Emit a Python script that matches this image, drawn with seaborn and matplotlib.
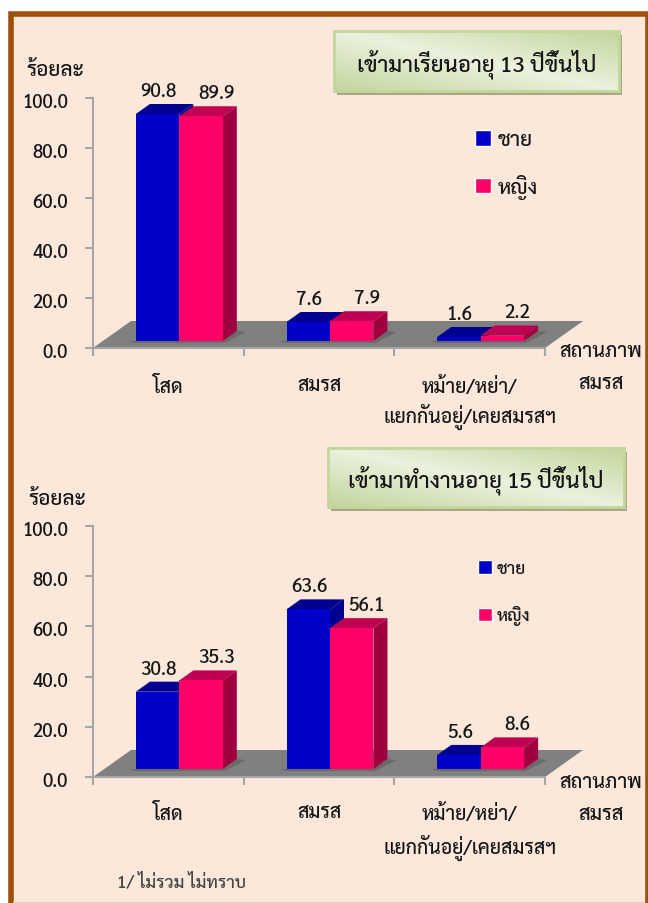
# -*- coding: utf-8 -*-
import numpy as np
import pandas as pd
import matplotlib
matplotlib.use('Agg')
import matplotlib.pyplot as plt
from matplotlib.colors import LinearSegmentedColormap
from matplotlib.patches import Polygon, Rectangle
from matplotlib.transforms import ScaledTranslation
import seaborn as sns

ANCHO, ALTO = 648, 904

ESTADOS = ['โสด', 'สมรส', 'หม้าย/หย่า/\nแยกกันอยู่/เคยสมรสฯ']
SEXOS = ['ชาย', 'หญิง']
ESTUDIO_CHAI = [90.8, 7.6, 1.6]
ESTUDIO_YING = [89.9, 7.9, 2.2]
TRABAJO_CHAI = [30.8, 63.6, 5.6]
TRABAJO_YING = [35.3, 56.1, 8.6]
Y_TICKS = [0, 20, 40, 60, 80, 100]

TITULO_1 = 'เข้ามาเรียนอายุ 13 ปีขึ้นไป'
TITULO_2 = 'เข้ามาทำงานอายุ 15 ปีขึ้นไป'
YLABEL = 'ร้อยละ'
XLABEL = 'สถานภาพ\nสมรส'
NOTA = '1/ ไม่รวม ไม่ทราบ'

AZUL, AZUL_TOP = '#0000C8', '#000090'
ROSA, ROSA_TOP, ROSA_LADO = '#FF0066', '#C00050', '#A00040'

sns.set_theme(style='white')
plt.rcParams['font.family'] = ['Sarabun', 'DejaVu Sans']
plt.rcParams['font.weight'] = 'medium'
plt.rcParams['text.color'] = '#151515'
plt.rcParams['xtick.labelcolor'] = '#151515'
plt.rcParams['ytick.labelcolor'] = '#151515'

fig = plt.figure(figsize=(ANCHO / 100, ALTO / 100), dpi=100, facecolor='white')


def ejes_px(x0, y_arriba, x1, y_abajo, **kw):
    return fig.add_axes([x0 / ANCHO, 1 - y_abajo / ALTO, (x1 - x0) / ANCHO,
                         (y_abajo - y_arriba) / ALTO], **kw)


# ---------------------------------------------------------------------------
# FONDO, MARCO Y CAJAS DE TITULO
# ---------------------------------------------------------------------------
fondo = ejes_px(0, 0, ANCHO, ALTO)
fondo.set_xlim(0, ANCHO)
fondo.set_ylim(ALTO, 0)
fondo.axis('off')
fondo.add_patch(Rectangle((10.5, 15), 637, 900, facecolor='#FCE8DA',
                          edgecolor='#A04F0A', linewidth=4))
fondo.add_patch(Rectangle((13, 903), 632, 1, facecolor='#E8CDB8', edgecolor='none'))

verde = LinearSegmentedColormap.from_list('verde', ['#EAF1DE', '#C2D69C'])


def caja_titulo(x0, y0, x1, y1, sombra, texto):
    fondo.add_patch(Rectangle((x0 + sombra[0], y0 + sombra[1]), x1 - x0, y1 - y0,
                              facecolor='#A9A882', edgecolor='none', zorder=2))
    xx, yy = np.meshgrid(np.linspace(0, 1, 120), np.linspace(0, 1, 40))
    grad = np.abs((xx + 1 - yy) / 2 - 0.5) * 2
    fondo.imshow(grad, cmap=verde, extent=(x0, x1, y1, y0), aspect='auto', zorder=3,
                 vmin=0, vmax=1)
    fondo.add_patch(Rectangle((x0, y0), x1 - x0, y1 - y0, facecolor='none',
                              edgecolor='#C3D69B', linewidth=2, zorder=4))
    fondo.text((x0 + x1) / 2, (y0 + y1) / 2 + 2, texto, fontsize=16, ha='center',
               va='center', zorder=5)
    fondo.set_xlim(0, ANCHO)
    fondo.set_ylim(ALTO, 0)


caja_titulo(334, 32, 619, 92, (3, 4), TITULO_1)
caja_titulo(328, 449, 624, 508, (3, 4), TITULO_2)


# ---------------------------------------------------------------------------
# UN GRAFICO DE BARRAS CON PISO
# ---------------------------------------------------------------------------
def grafico(y_cero, y_cien, base, chai, ying, ley, ylabel_xy, xlabel_y, pad_x, interlinea):
    ax = ejes_px(93, y_cien, 545, y_cero, facecolor='none')
    ax.set_xlim(-0.5, 2.5)
    ax.set_ylim(0, 100)
    ax.set_yticks(Y_TICKS)
    ax.set_yticklabels([f'{v:.1f}' for v in Y_TICKS], fontsize=13.4)
    ax.set_xticks([-0.5, 0.5, 1.5, 2.5])
    ax.set_xticklabels([])
    ax.set_xticks([0, 1, 2], minor=True)
    ax.set_xticklabels(ESTADOS, minor=True, fontsize=14, linespacing=interlinea, va='top')
    ax.tick_params(axis='x', which='minor', bottom=False, length=0, pad=pad_x)
    ax.tick_params(axis='x', which='major', bottom=True, length=6, width=1.5, color='#A6A6A6')
    ax.tick_params(axis='y', left=True, length=6, width=1.5, color='#A6A6A6', pad=12)
    # las etiquetas del eje y van 2 px mas abajo que la marca
    bajar = ScaledTranslation(0, -2 / 100, fig.dpi_scale_trans)
    for etiqueta in ax.get_yticklabels():
        etiqueta.set_transform(etiqueta.get_transform() + bajar)
    sns.despine(ax=ax)
    for lado in ['left', 'bottom']:
        ax.spines[lado].set_color('#A6A6A6')
        ax.spines[lado].set_linewidth(1.5)

    # piso gris del grafico
    px_x = 3 / 452
    px_y = 100 / (y_cero - y_cien)
    ax.add_patch(Polygon([(-0.5, 0), (2.5, 0), (2.5 + 38 * px_x, 27 * px_y),
                          (-0.5 + 38 * px_x, 27 * px_y)], closed=True,
                         facecolor='#808080', edgecolor='none', clip_on=False))

    # barras, corridas sobre el piso
    ax_b = ejes_px(93 + 11, y_cien - (y_cero - base), 545 + 11, base, facecolor='none')
    df = pd.DataFrame({'estado': ESTADOS * 2,
                       'sexo': [SEXOS[0]] * 3 + [SEXOS[1]] * 3,
                       'pct': list(chai) + list(ying)})
    sns.barplot(data=df, x='estado', y='pct', hue='sexo', palette=[AZUL, ROSA], width=0.577,
                saturation=1, ax=ax_b, errorbar=None, legend=True)
    ax_b.set_xlim(-0.5, 2.5)
    ax_b.set_ylim(0, 100)
    ax_b.axis('off')

    # caras superior y lateral, sacadas de cada barra
    dx, dy = 14 * px_x, 10 * px_y
    for serie, contenedor in enumerate(ax_b.containers):
        es_azul = serie == 0
        z = 3 if es_azul else 5
        for barra in contenedor:
            x0, ancho, alto = barra.get_x(), barra.get_width(), barra.get_height()
            der = x0 + ancho
            barra.set_zorder(z)
            barra.set_edgecolor('none')
            sup = AZUL_TOP if es_azul else ROSA_TOP
            lat = AZUL_TOP if es_azul else ROSA_LADO
            ax_b.add_patch(Polygon([(x0, alto), (der, alto), (der + dx, alto + dy),
                                    (x0 + dx, alto + dy)], facecolor=sup, edgecolor='none',
                                   zorder=z - 0.5, clip_on=False))
            ax_b.add_patch(Polygon([(der, 0), (der + dx, dy), (der + dx, alto + dy), (der, alto)],
                                   facecolor=lat, edgecolor='none', zorder=z - 0.5, clip_on=False))
            # sombra sobre el piso
            if not es_azul:
                izq = x0 - ancho
                ax_b.add_patch(Polygon([(izq - 8 * px_x, 0), (izq, -2 * px_y), (der + 2 * px_x, -2 * px_y),
                                        (der + dx + 9 * px_x, 0.9 * dy), (der + dx, dy), (der, 0)],
                                       facecolor='#6A6A6A', edgecolor='none', zorder=1, clip_on=False))
            # etiqueta de valor
            ax_b.annotate(f'{alto:.1f}', (x0 + ancho / 2, alto),
                          xytext=((1 if es_azul else 15) * 0.72, 23 * 0.72),
                          textcoords='offset points', ha='center', va='center', fontsize=13.6,
                          annotation_clip=False, zorder=8)

    # leyenda
    leg = ax_b.legend(loc='upper left', bbox_to_anchor=(ley['x'] / ANCHO, 1 - ley['y'] / ALTO),
                      bbox_transform=fig.transFigure, frameon=False, fontsize=ley['fs'],
                      handlelength=ley['lado'], handleheight=ley['lado'], handletextpad=0.3,
                      labelspacing=ley['esp'], borderaxespad=0, borderpad=0)
    leg.set_zorder(9)

    # textos de los ejes
    fondo.text(ylabel_xy[0], ylabel_xy[1], YLABEL, fontsize=15, ha='center', va='center')
    l1, l2 = XLABEL.split('\n')
    fondo.text(601, xlabel_y[0], l1, fontsize=14.4, ha='center', va='center')
    fondo.text(601, xlabel_y[1], l2, fontsize=14.4, ha='center', va='center')
    return ax


grafico(349, 99, 342, ESTUDIO_CHAI, ESTUDIO_YING,
        {'x': 475, 'y': 130, 'fs': 15, 'lado': 0.77, 'esp': 1.13}, (55, 70), (352, 384), 20.5, 1.31)
grafico(778, 527, 770, TRABAJO_CHAI, TRABAJO_YING,
        {'x': 478, 'y': 561, 'fs': 12.5, 'lado': 0.8, 'esp': 1.63}, (57, 500), (783, 815), 19, 1.55)

fondo.text(117, 883, NOTA, fontsize=12.5, color='#444444', ha='left', va='center')

fig.savefig('out.png', dpi=100)
